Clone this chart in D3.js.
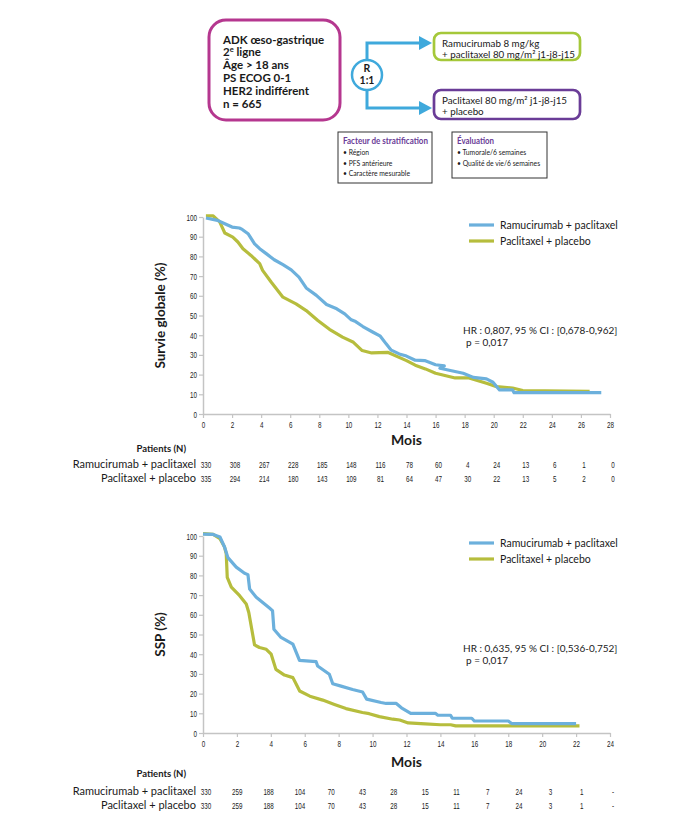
<!DOCTYPE html>
<html>
<head>
<meta charset="utf-8">
<script src="https://cdn.jsdelivr.net/npm/d3@7"></script>
<style>
  body { margin: 0; background: #fff; }
  svg text { font-family: Lato, 'Open Sans', sans-serif; fill: #1a1a1a; }
  svg .cond { font-family: 'Liberation Sans', Arial, sans-serif; }
</style>
</head>
<body>
<script>
const blue = '#6cb0dc';
const green = '#b6bd3d';
const squeeze = 0.66;

// schema
const inclusionLines = ['ADK œso-gastrique', '2|e| ligne', 'Âge > 18 ans', 'PS ECOG 0-1', 'HER2 indifférent', 'n = 665'];
const armALines = ['Ramucirumab 8 mg/kg', '+ paclitaxel 80 mg/m² j1-j8-j15'];
const armBLines = ['Paclitaxel 80 mg/m² j1-j8-j15', '+ placebo'];
const stratItems = ['Région', 'PFS antérieure', 'Caractère mesurable'];
const evalItems = ['Tumorale/6 semaines', 'Qualité de vie/6 semaines'];

const armNames = ['Ramucirumab + paclitaxel', 'Paclitaxel + placebo'];

// survie globale, [mois, %]
const osRam = [[0.2,99.5],[1.0,98.3],[1.5,96.6],[2.0,94.9],[2.5,94.4],[2.7,93.7],[3.1,91.5],[3.55,86.4],[3.9,83.9],
  [4.35,81.4],[4.9,78.3],[5.5,75.8],[6.07,73.2],[6.6,69.5],[7.1,64],[7.8,60.2],[8.5,55.6],[9.2,53.4],[9.75,50.8],
  [10.2,47.8],[10.5,46.9],[11,44.4],[11.7,41.5],[12.2,39.5],[12.6,35.6],[12.95,32.4],[13.5,30.5],[14.0,29.4],
  [14.6,27.3],[15.25,27.1],[16.0,25.0],[16.6,24.4],[16.3,23.2],[17.9,20.7],[18.6,18.6],[19.5,17.8],[19.95,16.1],
  [20.4,12.2],[21.3,12.2],[21.4,10.8],[27.4,10.8]];
const osPla = [[0.2,100.6],[0.7,100.6],[1.15,97.5],[1.5,91.9],[2.05,89.8],[2.4,87.3],[2.75,83.9],[3.3,80.5],[3.9,76.3],
  [4.1,72.9],[4.7,66.9],[5.5,59.3],[6.4,55.9],[7.1,52.5],[7.9,47.5],[8.7,43],[9.6,39],[10.35,36.4],[10.95,32.2],
  [11.6,31],[12.7,31.3],[14.0,27.1],[14.6,24.8],[15.3,22.9],[16.0,20.7],[17.35,18.3],[18.3,18.3],[19.5,15.6],
  [20.2,13.9],[21.3,13.2],[22.0,11.9],[26.6,11.5]];

// survie sans progression, [mois, %]
const pfsRam = [[0,101],[0.6,100.8],[1.0,99.5],[1.27,94.4],[1.47,89],[1.96,84.2],[2.45,81.1],[2.65,80.4],[2.75,73.1],
  [3.14,68.9],[3.92,63.4],[4.1,62.1],[4.18,52.7],[4.6,48.5],[5.3,45.1],[5.69,36.9],[6.67,36.2],[6.76,34],[7.45,29.8],
  [7.65,25],[8.14,23.8],[8.82,22.1],[9.41,20.8],[9.65,17.2],[10.5,15.5],[10.8,15],[11.4,15],[11.7,12.8],[12.25,10],
  [13.7,10],[13.85,9],[14.6,9],[14.7,7.5],[15.85,7.5],[16.0,6.1],[18.0,6.1],[18.2,4.8],[22.0,4.8]];
const pfsPla = [[0,101.2],[0.6,100.8],[1.0,98.6],[1.27,94.4],[1.37,91],[1.43,79],[1.67,74],[2.16,69.7],[2.55,65.5],
  [2.7,61.2],[3.04,44.7],[3.33,43.4],[3.73,42.5],[4.02,40],[4.3,32.3],[4.8,29.4],[5.3,28.1],[5.5,24.7],[5.7,21.3],
  [6.3,18.7],[7.06,16.7],[7.75,14.5],[8.43,12.4],[9.4,10.4],[9.8,9.8],[10.4,8.3],[11.2,7],[11.6,6.6],[12.1,5.1],
  [13.1,4.6],[14.0,4.2],[14.6,4.2],[14.9,3.6],[22.2,3.6]];

// patients à risque
const osRiskRam = ['330','308','267','228','185','148','116','78','60','4','24','13','6','1','0'];
const osRiskPla = ['335','294','214','180','143','109','81','64','47','30','22','13','5','2','0'];
const pfsRiskRam = ['330','259','188','104','70','43','28','15','11','7','24','3','1','-'];
const pfsRiskPla = ['330','259','188','104','70','43','28','15','11','7','24','3','1','-'];

const yTicks = d3.range(0, 101, 10);

const svg = d3.select('body').append('svg')
  .attr('width', 700)
  .attr('height', 822);

// petit texte "condensé" : police normale écrasée horizontalement
const condText = (g, x, y, txt, size, anchor) => {
  return g.append('text')
    .attr('class', 'cond')
    .attr('transform', `translate(${x},${y}) scale(${squeeze},1)`)
    .attr('text-anchor', anchor || 'start')
    .attr('font-size', size)
    .text(txt);
};

const drawSchema = () => {
  const g = svg.append('g');

  g.append('rect')
    .attr('x', 209).attr('y', 20).attr('width', 131).attr('height', 100)
    .attr('rx', 17)
    .attr('fill', 'none').attr('stroke', '#b5378f').attr('stroke-width', 3);

  inclusionLines.forEach((line, i) => {
    const parts = line.split('|');
    const t = g.append('text')
      .attr('x', 223).attr('y', 43.5 + i * 12.9)
      .attr('font-size', 11.5).attr('font-weight', 700)
      .text(parts[0]);
    if (parts.length > 1) {
      t.append('tspan').attr('font-size', 7.5).attr('dy', -4.5).text(parts[1]);
      t.append('tspan').attr('dy', 4.5).text(parts[2]);
    }
  });

  // fleches
  const arrow = (y) => {
    g.append('path')
      .attr('d', `M367,75V${y}H422`)
      .attr('fill', 'none').attr('stroke', '#3fa9dc').attr('stroke-width', 3);
    g.append('path')
      .attr('d', `M419,${y - 7}L432,${y}L419,${y + 7}Z`)
      .attr('fill', '#3fa9dc');
  };
  arrow(43);
  arrow(108);

  g.append('circle')
    .attr('cx', 367).attr('cy', 75).attr('r', 15)
    .attr('fill', '#fff').attr('stroke', '#3fa9dc').attr('stroke-width', 2.5);
  g.append('text').attr('x', 367).attr('y', 72).attr('text-anchor', 'middle')
    .attr('font-size', 10.5).attr('font-weight', 700).text('R');
  g.append('text').attr('x', 367).attr('y', 84).attr('text-anchor', 'middle')
    .attr('font-size', 10.5).attr('font-weight', 700).text('1:1');

  const armBox = (y, h, color, lines) => {
    g.append('rect')
      .attr('x', 434).attr('y', y).attr('width', 146).attr('height', h)
      .attr('rx', 7)
      .attr('fill', 'none').attr('stroke', color).attr('stroke-width', 2.7);
    lines.forEach((line, i) => {
      g.append('text').attr('x', 442).attr('y', y + 13.5 + i * 11.2)
        .attr('font-size', 9.8).text(line);
    });
  };
  armBox(33, 27, '#a5c83a', armALines);
  armBox(90, 29, '#6a3c97', armBLines);

  const infoBox = (x, w, h, title, titleW, items) => {
    g.append('rect')
      .attr('x', x).attr('y', 132).attr('width', w).attr('height', h)
      .attr('fill', 'none').attr('stroke', '#333').attr('stroke-width', 1);
    g.append('text').attr('x', x + 5).attr('y', 143.5)
      .attr('font-size', 8.5).attr('font-weight', 700)
      .attr('textLength', titleW).attr('lengthAdjust', 'spacingAndGlyphs')
      .style('fill', '#6a3c97').text(title);
    items.forEach((item, i) => {
      g.append('text')
        .attr('transform', `translate(${x + 5},${155 + i * 10.5}) scale(0.8,1)`)
        .attr('font-size', 8.5).text('• ' + item);
    });
  };
  infoBox(338, 94, 51, 'Facteur de stratification', 85, stratItems);
  infoBox(452, 95, 46, 'Évaluation', 37, evalItems);
};

const drawKM = (cfg) => {
  const x = d3.scaleLinear().domain([0, cfg.xMax]).range([203, 610]);
  const y = d3.scaleLinear().domain([0, 100]).range([cfg.bottom, cfg.top]);
  const g = svg.append('g');

  const xAxis = g.append('g')
    .attr('transform', `translate(0,${cfg.bottom})`)
    .call(d3.axisBottom(x).tickValues(d3.range(0, cfg.xMax + 1, 2)).tickSize(4).tickSizeOuter(0).tickPadding(3));
  const yAxis = g.append('g')
    .attr('transform', 'translate(203,0)')
    .call(d3.axisLeft(y).tickValues(yTicks).tickSize(4).tickSizeOuter(0).tickPadding(3));

  [xAxis, yAxis].forEach((a) => {
    a.select('.domain').attr('stroke', '#c4c4c4').attr('stroke-width', 1.5);
    a.selectAll('.tick line').attr('stroke', '#c4c4c4').attr('stroke-width', 1.2);
    a.selectAll('.tick text')
      .attr('class', 'cond')
      .attr('font-size', 9.5)
      .attr('transform', `scale(${squeeze},1)`)
      .style('fill', '#222');
  });
  yAxis.selectAll('.tick text').attr('x', -6 / squeeze);

  const line = d3.line()
    .x((d) => x(d[0]))
    .y((d) => y(d[1]));

  [[cfg.pla, green], [cfg.ram, blue]].forEach(([data, color]) => {
    g.append('path')
      .datum(data)
      .attr('d', line)
      .attr('fill', 'none')
      .attr('stroke', color)
      .attr('stroke-width', 3.2)
      .attr('stroke-linejoin', 'round');
  });

  g.append('text')
    .attr('transform', `translate(165,${(cfg.top + cfg.bottom) / 2}) rotate(-90)`)
    .attr('text-anchor', 'middle')
    .attr('font-size', 13.5).attr('font-weight', 700)
    .text(cfg.yTitle);

  // legende
  [blue, green].forEach((color, i) => {
    const ly = cfg.legendY + i * 16;
    g.append('line')
      .attr('x1', 469).attr('x2', 494).attr('y1', ly).attr('y2', ly)
      .attr('stroke', color).attr('stroke-width', 3.2);
    g.append('text').attr('x', 500).attr('y', ly + 4)
      .attr('font-size', 10.5).text(armNames[i]);
  });

  g.append('text').attr('x', 463).attr('y', cfg.hrY + 4)
    .attr('font-size', 10).text(cfg.hr);
  g.append('text').attr('x', 466).attr('y', cfg.hrY + 15.5)
    .attr('font-size', 10).text('p = 0,017');

  g.append('text')
    .attr('x', (x(0) + x(cfg.xMax)) / 2).attr('y', cfg.bottom + cfg.off[0] + 5)
    .attr('text-anchor', 'middle')
    .attr('font-size', 14).attr('font-weight', 700)
    .text('Mois');

  g.append('text')
    .attr('x', 186).attr('y', cfg.bottom + cfg.off[1] + 4)
    .attr('text-anchor', 'end')
    .attr('font-size', 9.5).attr('font-weight', 700)
    .text('Patients (N)');

  const col = d3.scalePoint()
    .domain(d3.range(cfg.riskRam.length))
    .range([x(0), x(cfg.xMax)]);

  [cfg.riskRam, cfg.riskPla].forEach((row, i) => {
    const ry = cfg.bottom + cfg.off[2 + i];
    g.append('text')
      .attr('x', 196).attr('y', ry + 4)
      .attr('text-anchor', 'end')
      .attr('font-size', 11)
      .text(armNames[i]);
    row.forEach((v, j) => {
      condText(g, col(j) + 3, ry + 3.5, v, 9.5, 'middle');
    });
  });
};

drawSchema();

drawKM({
  top: 217, bottom: 414, xMax: 28,
  ram: osRam, pla: osPla,
  riskRam: osRiskRam, riskPla: osRiskPla,
  yTitle: 'Survie globale (%)',
  hr: 'HR : 0,807, 95 % CI : [0,678-0,962]',
  legendY: 225, hrY: 330,
  off: [26, 34, 50, 64]
});

drawKM({
  top: 536, bottom: 733, xMax: 24,
  ram: pfsRam, pla: pfsPla,
  riskRam: pfsRiskRam, riskPla: pfsRiskPla,
  yTitle: 'SSP (%)',
  hr: 'HR : 0,635, 95 % CI : [0,536-0,752]',
  legendY: 543, hrY: 648,
  off: [29, 40, 58, 72]
});
</script>
</body>
</html>
